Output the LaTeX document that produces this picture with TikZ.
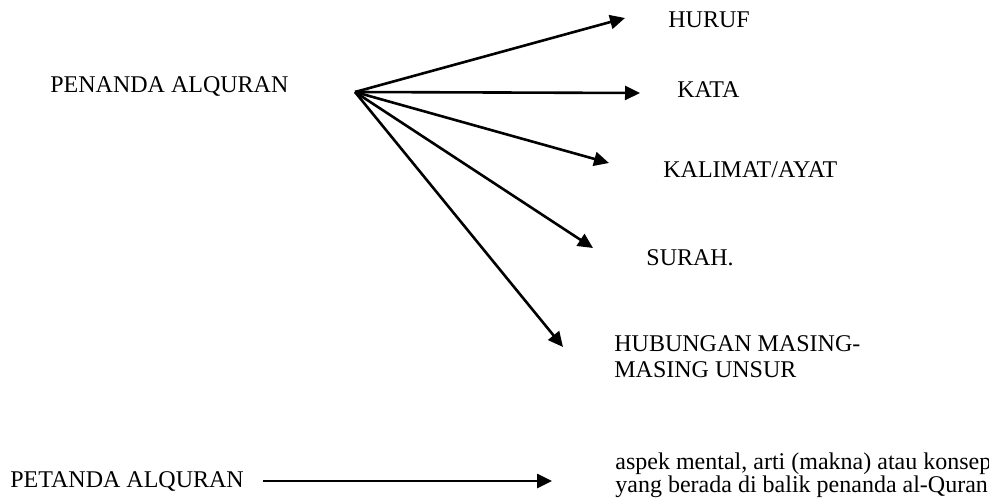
\documentclass[tikz,border=0pt]{standalone}
\usepackage{fontspec}
\setmainfont{Liberation Serif}
\usetikzlibrary{arrows.meta,positioning}

\begin{document}
\begin{tikzpicture}[x=0.5pt,y=-0.5pt,>={Triangle[length=7.5pt,width=7pt]},
lbl/.style={anchor=base west,inner sep=0pt,font=\fontsize{12}{13}\selectfont},
lbl2/.style={anchor=north west,inner sep=0pt,align=left},
arr/.style={->,line width=1.3pt}]
\useasboundingbox (0,0) rectangle (989,503);
\coordinate (src) at (355,92);
\coordinate (t1) at (625,18);
\coordinate (t2) at (640,93);
\coordinate (t3) at (609,163);
\coordinate (t4) at (593,248);
\coordinate (t5) at (563,347);
\node[lbl] (penanda) at (50,92) {PENANDA ALQURAN};
\node[lbl] (huruf) at (668,27) {HURUF};
\node[lbl] (kata) at (677,97) {KATA};
\node[lbl] (kalimat) at (663,177) {KALIMAT/AYAT};
\node[lbl] (surah) at (646,265) {SURAH.};
\node[lbl,lbl2] (hubungan) at (614,335) {HUBUNGAN MASING-\\MASING UNSUR};
\node[lbl] (petanda) at (10,487) {PETANDA ALQURAN};
\node[lbl,lbl2,font=\fontsize{12}{11.8}\selectfont] (aspek) at (615,452)
  {aspek mental, arti (makna) atau konsep\\yang berada di balik penanda al-Quran};
\coordinate (b1) at (263,481);
\coordinate (b2) at (552,481);
\foreach \t in {t1,t2,t3,t4,t5}
  \draw[arr] (src) -- (\t);
\draw[arr] (b1) -- (b2);
\end{tikzpicture}
\end{document}
